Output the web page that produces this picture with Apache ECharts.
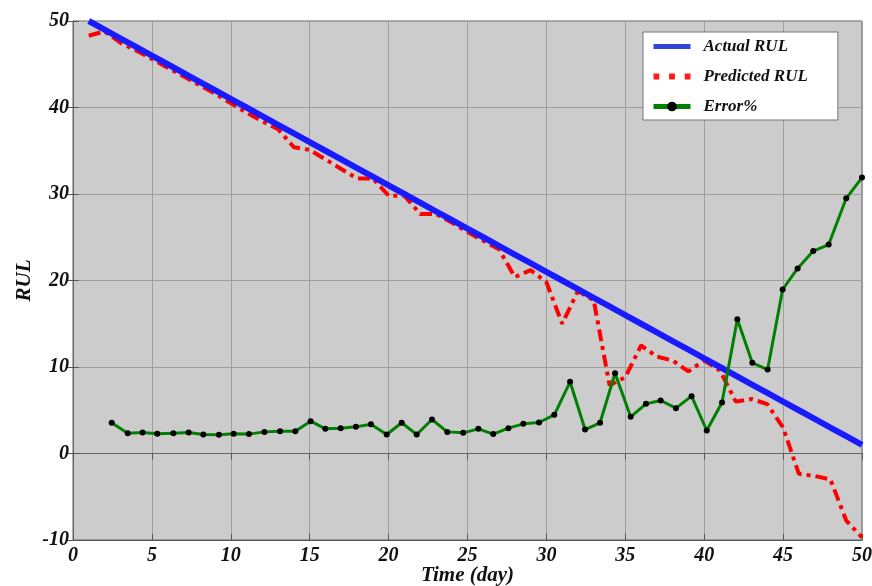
<!DOCTYPE html>
<html><head><meta charset="utf-8">
<script src="https://cdn.jsdelivr.net/npm/echarts@6/dist/echarts.min.js"></script>
<style>html,body{margin:0;padding:0;background:#fff}#c{width:872px;height:586px}</style>
</head><body><div id="c"></div>
<script>
const days = [1,2,3,4,5,6,7,8,9,10,11,12,13,14,15,16,17,18,19,20,21,22,23,24,25,26,27,28,29,30,31,32,33,34,35,36,37,38,39,40,41,42,43,44,45,46,47,48,49,50];
const actualRUL = [50,49,48,47,46,45,44,43,42,41,40,39,38,37,36,35,34,33,32,31,30,29,28,27,26,25,24,23,22,21,20,19,18,17,16,15,14,13,12,11,10,9,8,7,6,5,4,3,2,1];
const predictedRUL = [48.3,48.8,47.5,46.6,45.6,44.6,43.6,42.6,41.6,40.5,39.4,38.4,37.5,35.4,35.1,34.0,32.9,31.8,31.8,29.8,29.8,27.7,27.7,26.7,25.6,24.6,23.6,20.4,21.2,19.8,15.0,18.8,17.7,7.9,8.8,12.5,11.2,10.75,9.5,10.75,9.6,6.0,6.3,5.7,3.0,-2.35,-2.6,-3.0,-7.75,-9.7];
const errorX = [2.45,3.47,4.41,5.34,6.36,7.33,8.26,9.25,10.18,11.15,12.13,13.12,14.09,15.06,15.99,16.96,17.93,18.88,19.88,20.83,21.78,22.75,23.72,24.73,25.69,26.63,27.59,28.54,29.53,30.5,31.5,32.45,33.4,34.35,35.34,36.31,37.24,38.21,39.2,40.16,41.13,42.1,43.05,44.02,44.97,45.92,46.91,47.89,49.0,50.0];
const errorPct = [3.55,2.35,2.43,2.27,2.35,2.43,2.2,2.16,2.27,2.24,2.5,2.58,2.58,3.74,2.85,2.93,3.08,3.39,2.2,3.55,2.2,3.93,2.5,2.39,2.85,2.24,2.93,3.43,3.58,4.47,8.29,2.77,3.55,9.28,4.24,5.74,6.13,5.24,6.63,2.66,5.9,15.53,10.49,9.71,18.96,21.4,23.4,24.16,29.5,31.9];
const seriesNames = ['Actual RUL','Predicted RUL','Error%'];

const font = "'Liberation Serif','Times New Roman',serif";
const lbl = {fontFamily:font,fontStyle:'italic',fontWeight:'bold',fontSize:20,color:'#111'};
const split = {show:true,lineStyle:{color:'#9e9e9e',width:1}};
const chart = echarts.init(document.getElementById('c'),null,{renderer:'canvas'});
chart.setOption({
  animation:false,
  backgroundColor:'#ffffff',
  grid:{left:73,right:10,top:21,bottom:46,outerBoundsMode:'none',containLabel:false,show:true,backgroundColor:'#cccccc',borderColor:'#666',borderWidth:1},
  xAxis:[
    {type:'value',min:0,max:50,interval:5,position:'bottom',
     name:'Time (day)',nameLocation:'middle',nameGap:25,nameMoveOverlap:false,nameTextStyle:Object.assign({},lbl,{fontSize:21}),
     axisLine:{show:true,onZero:false,lineStyle:{color:'#555',width:1}},
     axisTick:{show:true,inside:true,length:6,lineStyle:{color:'#555'}},
     axisLabel:Object.assign({margin:6},lbl),splitLine:split},
    {type:'value',min:0,max:50,interval:5,position:'top',
     axisLine:{show:true,lineStyle:{color:'#666'}},
     axisTick:{show:true,inside:true,length:6,lineStyle:{color:'#555'}},
     axisLabel:{show:false},splitLine:{show:false}}
  ],
  yAxis:[
    {type:'value',min:-10,max:50,interval:10,position:'left',
     name:'RUL',nameLocation:'middle',nameGap:38,nameMoveOverlap:false,nameTextStyle:Object.assign({},lbl,{fontSize:21}),
     axisLine:{show:true,onZero:false,lineStyle:{color:'#555',width:1}},
     axisTick:{show:true,inside:true,length:6,lineStyle:{color:'#555'}},
     axisLabel:Object.assign({margin:4},lbl),splitLine:split},
    {type:'value',min:-10,max:50,interval:10,position:'right',
     axisLine:{show:true,lineStyle:{color:'#666'}},
     axisTick:{show:true,inside:true,length:6,lineStyle:{color:'#555'}},
     axisLabel:{show:false},splitLine:{show:false}}
  ],
  legend:{
    orient:'vertical',left:643,top:32,width:195,
    backgroundColor:'#ffffff',borderColor:'#777',borderWidth:1,
    padding:[6,30,5,8],itemWidth:37,itemHeight:12,itemGap:13,
    textStyle:{fontFamily:font,fontStyle:'italic',fontWeight:'bold',fontSize:17,color:'#111',padding:[0,0,0,8]},
    data:[
      {name:seriesNames[0],icon:'path://M0,0L38,0L38,5L0,5Z',itemStyle:{color:'#3344dd'}},
      {name:seriesNames[1],icon:'path://M0,0L6,0L6,6L0,6ZM16,0L22,0L22,6L16,6ZM32,0L38,0L38,6L32,6Z',itemStyle:{color:'#ff1a1a'}},
      {name:seriesNames[2],lineStyle:{width:5,color:'#008000'},itemStyle:{color:'#000000'}}
    ]
  },
  series:[
    {name:seriesNames[1],type:'line',z:2,showSymbol:false,symbol:'none',
     data:days.map((d,i)=>[d,predictedRUL[i]]),
     lineStyle:{color:'#ff0000',width:4,type:[12,5,4,5]},itemStyle:{color:'#ff0000'}},
    {name:seriesNames[0],type:'line',z:3,showSymbol:false,symbol:'none',
     data:days.map((d,i)=>[d,actualRUL[i]]),
     lineStyle:{color:'#1a1aff',width:6},itemStyle:{color:'#1a1aff'}},
    {name:seriesNames[2],type:'line',z:4,symbol:'circle',symbolSize:6,
     data:errorX.map((d,i)=>[d,errorPct[i]]),
     lineStyle:{color:'#008000',width:3},itemStyle:{color:'#000000'}}
  ]
});
</script></body></html>
